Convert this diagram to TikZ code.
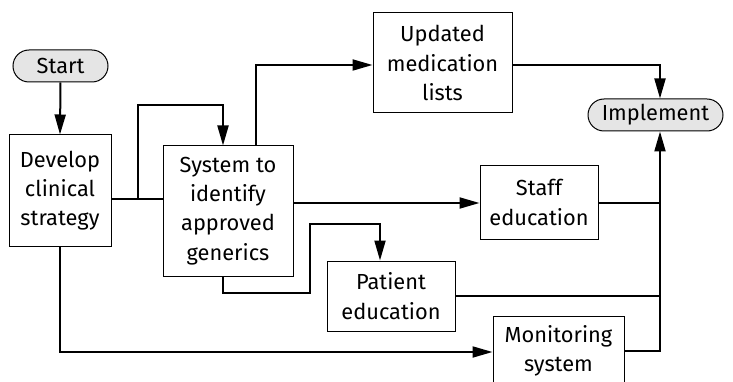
\documentclass[tikz,border=0pt]{standalone}
\usepackage{fontspec}
\setmainfont{Fira Sans}
\usetikzlibrary{arrows.meta}
\tikzset{
  box/.style={draw, line width=1pt, rectangle, inner sep=0pt, align=center, font=\fontsize{21.8}{29.3}\selectfont},
  pill/.style={draw, line width=1pt, rectangle, rounded corners=16pt, fill=black!10, inner sep=0pt, align=center, font=\fontsize{21.8}{29.3}\selectfont},
  conn/.style={line width=2pt, line join=miter},
  arr/.style={conn, -{Triangle[length=20pt,width=11pt]}}
}
\begin{document}
\begin{tikzpicture}[x=1pt,y=-1pt]
\useasboundingbox (0,0) rectangle (733,382);
\clip (0,0) rectangle (733,382);
\node[pill, minimum width=95pt, minimum height=32pt] (start) at (60.5,66) {Start};
\node[box, minimum width=102pt, minimum height=111pt] (dev) at (60,190.5) {Develop\\clinical\\strategy};
\node[box, minimum width=130pt, minimum height=130pt] (sys) at (228,211) {System to\\identify\\approved\\generics};
\node[box, minimum width=139pt, minimum height=100pt] (upd) at (442.5,63) {Updated\\medication\\lists};
\node[pill, minimum width=135pt, minimum height=32pt] (impl) at (655.5,115) {Implement};
\node[box, minimum width=118pt, minimum height=73pt] (staff) at (539,202.5) {Staff\\education};
\node[box, minimum width=128pt, minimum height=70pt] (pat) at (391,296) {Patient\\education};
\node[box, minimum width=131pt, minimum height=70pt] (mon) at (558.5,351) {Monitoring\\system};
\coordinate (b1) at (138,199);
\draw[arr] (start.south) -- (dev.north);
\draw[conn] (dev.east |- b1) -- (sys.west |- b1);
\draw[arr] (b1) -- (138,105) -- (223,105) -- (sys.north -| 223,0);
\draw[arr] (sys.north -| 256,0) -- (256,65) -- (upd.west |- 0,65);
\draw[arr] (upd.east |- 0,65) -- (660,65) -- (impl.north -| 660,0);
\draw[arr] (sys.east |- 0,203) -- (staff.west |- 0,203);
\draw[conn] (staff.east |- 0,203) -- (660,203);
\draw[arr] (sys.south -| 223,0) -- (223,293) -- (310,293) -- (310,224) -- (380,224) -- (pat.north -| 380,0);
\draw[conn] (pat.east |- 0,296) -- (660,296);
\draw[arr] (dev.south) -- (60,352) -- (mon.west |- 0,352);
\draw[arr] (mon.east |- 0,351) -- (660,351) -- (impl.south -| 660,0);
\end{tikzpicture}
\end{document}
